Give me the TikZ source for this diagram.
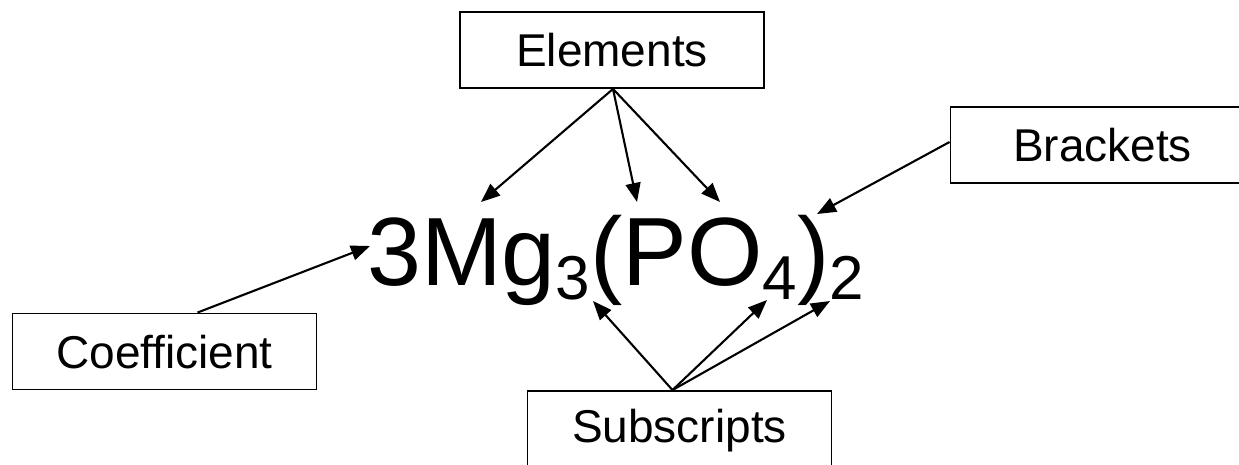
\documentclass[tikz,border=0pt]{standalone}
\usepackage{fontspec}
\setmainfont{Liberation Sans}
\usetikzlibrary{arrows.meta}
\begin{document}
\begin{tikzpicture}[x=1pt,y=-1pt,
  labelbox/.style={draw=black,line width=1.9pt,minimum width=304pt,minimum height=76pt,
    inner sep=0pt,font=\fontsize{46}{50}\selectfont,text height=33pt,text depth=0pt},
  arr/.style={line width=2.1pt,-{Triangle[length=19pt,width=15pt]}}]
\useasboundingbox (0,0) rectangle (1239,464);
\node[labelbox] (el) at (612,50) {Elements};
\node[labelbox] (br) at (1102.5,145) {Brackets};
\node[labelbox] (co) at (164.5,351.5) {Coefficient};
\node[labelbox,text depth=7pt] (sub) at (679.5,429) {Subscripts};
\node[anchor=base west,inner sep=0pt,font=\fontsize{97}{100}\selectfont] (fm) at (367,285)
  {3Mg\raisebox{-14pt}{\fontsize{62}{62}\selectfont 3}(PO\raisebox{-14pt}{\fontsize{62}{62}\selectfont 4})\raisebox{-14pt}{\fontsize{62}{62}\selectfont 2}};
\coordinate (tM) at (481,202);
\coordinate (tP) at (637,202);
\coordinate (tO) at (720,202);
\coordinate (tBr) at (817,214);
\coordinate (tCo) at (370,246);
\coordinate (tS3) at (593,301);
\coordinate (tS4) at (767,300);
\coordinate (tS2) at (830,301);
\draw[arr] ([xshift=1pt]el.south) -- (tM);
\draw[arr] ([xshift=1pt]el.south) -- (tP);
\draw[arr] ([xshift=1pt]el.south) -- (tO);
\draw[arr] ([yshift=3pt]br.west) -- (tBr);
\draw[arr] ([xshift=33pt]co.north) -- (tCo);
\draw[arr] ([xshift=-7pt]sub.north) -- (tS3);
\draw[arr] ([xshift=-7pt]sub.north) -- (tS4);
\draw[arr] ([xshift=-7pt]sub.north) -- (tS2);
\end{tikzpicture}
\end{document}
